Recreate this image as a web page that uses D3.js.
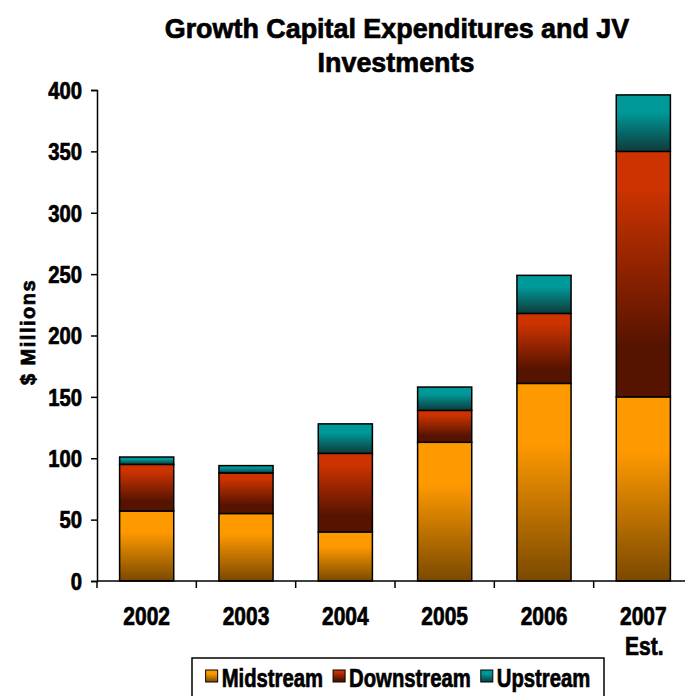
<!DOCTYPE html>
<html>
<head>
<meta charset="utf-8">
<script src="https://cdn.jsdelivr.net/npm/d3@7"></script>
<style>
  body { margin: 0; background: #fff; }
  svg text { font-family: "Liberation Sans", Arial, sans-serif; font-weight: bold; fill: #000;
             stroke: #000; stroke-width: 0.7px; }
</style>
</head>
<body>
<svg id="chart" width="685" height="696"></svg>
<script>
// ---- data ($ millions) ----
const years = ["2002", "2003", "2004", "2005", "2006", "2007"];
const yearNotes = ["", "", "", "", "", "Est."];
const seriesNames = ["Midstream", "Downstream", "Upstream"];
const midstream = [57, 55, 40, 113, 161, 150];
const downstream = [38, 33, 64, 26, 57, 200];
const upstream = [6, 6, 24, 19, 31, 46];
const yTicks = [0, 50, 100, 150, 200, 250, 300, 350, 400];
const titleLines = ["Growth Capital Expenditures and JV", "Investments"];
const yTitle = "$ Millions";

// gradient colours per series: [light top, dark bottom]
const palette = {
  Midstream: ["#FF9900", "#7A4900"],
  Downstream: ["#CC3300", "#551300"],
  Upstream: ["#009999", "#0E3B3B"]
};

const rows = years.map((y, i) => ({
  year: y, Midstream: midstream[i], Downstream: downstream[i], Upstream: upstream[i]
}));

const svg = d3.select("#chart");
const W = 685, H = 696;
svg.append("rect").attr("width", W).attr("height", H).attr("fill", "#fff");

const plot = { left: 97, top: 90, bottom: 581, right: 693 };

const x = d3.scaleBand().domain(years).range([plot.left, plot.right]).paddingInner(0.455).paddingOuter(0.2275);
const xBounds = d3.scaleBand().domain(years).range([plot.left, plot.right]);
const y = d3.scaleLinear().domain([0, 400]).range([plot.bottom, plot.top]);

// condense glyphs horizontally to the narrow look of the labels
function squeeze(sel, k) {
  sel.each(function () {
    const w = this.getComputedTextLength();
    this.setAttribute("textLength", (w * k).toFixed(2));
    this.setAttribute("lengthAdjust", "spacingAndGlyphs");
  });
}

// ---- gradients ----
const defs = svg.append("defs");
seriesNames.forEach(name => {
  const [light, dark] = palette[name];
  const g = defs.append("linearGradient").attr("id", "grad-" + name)
    .attr("x1", 0).attr("y1", 0).attr("x2", 0).attr("y2", 1);
  g.append("stop").attr("offset", "0").attr("stop-color", light);
  g.append("stop").attr("offset", name === "Downstream" ? "0.15" : "0.3").attr("stop-color", light);
  g.append("stop").attr("offset", name === "Downstream" ? "0.8" : "1").attr("stop-color", dark);
  g.append("stop").attr("offset", "1").attr("stop-color", dark);
});

// ---- title ----
const title = svg.append("g");
title.append("text").attr("x", 397).attr("y", 38).attr("text-anchor", "middle")
  .style("font-size", "28px").text(titleLines[0]).call(squeeze, 0.96);
title.append("text").attr("x", 396).attr("y", 72).attr("text-anchor", "middle")
  .style("font-size", "28px").text(titleLines[1]).call(squeeze, 0.96);

// ---- stacked bars ----
const stacked = d3.stack().keys(seriesNames)(rows);
svg.append("g").selectAll("g").data(stacked).join("g")
  .attr("fill", d => `url(#grad-${d.key})`)
  .selectAll("rect").data(d => d).join("rect")
  .attr("x", d => x(d.data.year))
  .attr("width", x.bandwidth())
  .attr("y", d => y(d[1]))
  .attr("height", d => y(d[0]) - y(d[1]))
  .attr("stroke", "#000").attr("stroke-width", 1.5);

// ---- y axis ----
const yAxis = svg.append("g").attr("transform", `translate(${plot.left},0)`)
  .call(d3.axisLeft(y).tickValues(yTicks).tickSize(6).tickPadding(9).tickFormat(d3.format("d")));
yAxis.select(".domain").attr("stroke", "#000").attr("stroke-width", 1.5);
yAxis.selectAll(".tick line").attr("stroke", "#000").attr("stroke-width", 1.5);
yAxis.selectAll(".tick text").attr("dy", "0.36em").style("font-size", "23px").call(squeeze, 0.88);

// ---- x axis ----
const xAxisG = svg.append("g").attr("transform", `translate(0,${plot.bottom})`);
xAxisG.append("line").attr("x1", plot.left).attr("x2", plot.right)
  .attr("stroke", "#000").attr("stroke-width", 1.5);
xAxisG.selectAll("line.tk").data(years.concat(["end"])).join("line").attr("class", "tk")
  .attr("x1", (d, i) => i < years.length ? xBounds(d) : plot.right)
  .attr("x2", (d, i) => i < years.length ? xBounds(d) : plot.right)
  .attr("y1", 0).attr("y2", 7).attr("stroke", "#000").attr("stroke-width", 1.5);
xAxisG.selectAll("text.yr").data(years).join("text").attr("class", "yr")
  .attr("x", d => xBounds(d) + xBounds.bandwidth() / 2)
  .attr("y", 44).attr("text-anchor", "middle").style("font-size", "25px")
  .text(d => d).call(squeeze, 0.84);
xAxisG.selectAll("text.note").data(years.filter((d, i) => yearNotes[i])).join("text").attr("class", "note")
  .attr("x", d => xBounds(d) + xBounds.bandwidth() / 2 + 1)
  .attr("y", 74).attr("text-anchor", "middle").style("font-size", "25px")
  .text(d => yearNotes[years.indexOf(d)]).call(squeeze, 0.84);

// ---- y title ----
svg.append("text").attr("transform", "translate(35,332) rotate(-90)")
  .attr("text-anchor", "middle").style("font-size", "20px").style("letter-spacing", "1.5px")
  .text(yTitle);

// ---- legend ----
const legend = svg.append("g");
legend.append("rect").attr("x", 192).attr("y", 658).attr("width", 412).attr("height", 60)
  .attr("fill", "#fff").attr("stroke", "#000").attr("stroke-width", 1.5);
const items = legend.selectAll("g.item").data(seriesNames).join("g").attr("class", "item");
items.append("rect").attr("width", 12).attr("height", 12).attr("y", 670)
  .attr("fill", d => `url(#grad-${d})`).attr("stroke", "#000").attr("stroke-width", 1);
items.append("text").attr("y", 687).style("font-size", "26px").text(d => d).call(squeeze, 0.78);
const widths = [];
items.each(function () {
  const t = d3.select(this).select("text").node();
  widths.push(12 + 4 + +t.getAttribute("textLength"));
});
const total = d3.sum(widths) + 10 * (widths.length - 1);
let cursor = 192 + 206 - total / 2;
items.each(function (d, i) {
  d3.select(this).select("rect").attr("x", cursor);
  d3.select(this).select("text").attr("x", cursor + 16);
  cursor += widths[i] + 10;
});
</script>
</body>
</html>
